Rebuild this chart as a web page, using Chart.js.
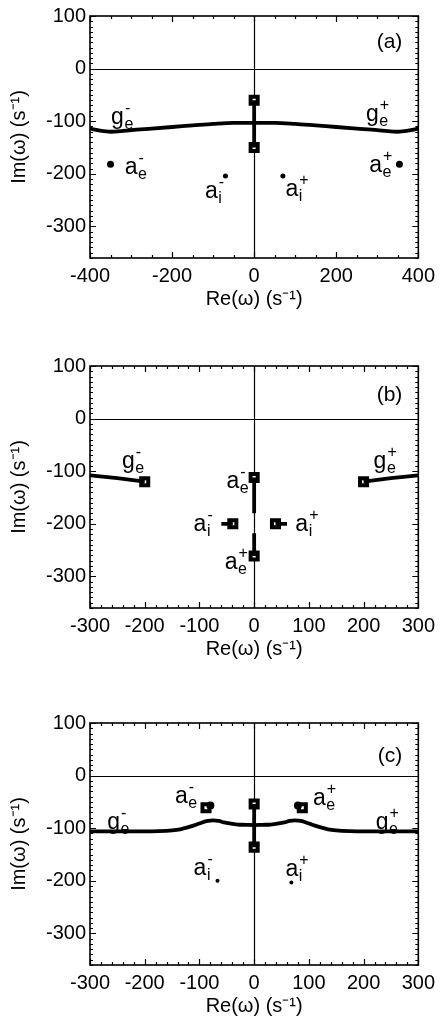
<!DOCTYPE html>
<html>
<head>
<meta charset="utf-8">
<script src="https://cdn.jsdelivr.net/npm/chart.js@4"></script>
<style>
  html, body { margin: 0; padding: 0; background: #fff; }
  body { width: 441px; height: 1025px; position: relative; overflow: hidden; }
  canvas { position: absolute; left: 0; }
</style>
</head>
<body>
<canvas id="painelA" width="441" height="318" style="top:0px"></canvas>
<canvas id="painelB" width="441" height="318" style="top:350px"></canvas>
<canvas id="painelC" width="441" height="318" style="top:707px"></canvas>
<script>
// eixos
const yTicks = [-300, -200, -100, 0, 100];
const xTicksA = [-400, -200, 0, 200, 400];
const xTicksBC = [-300, -200, -100, 0, 100, 200, 300];

// painel (a)
const aCurvaX = [-400, -375, -350, -325, -300, -250, -200, -150, -100, -50, 0, 50, 100, 150, 200, 250, 300, 325, 350, 375, 400];
const aCurvaY = [-114, -118, -120, -119, -117, -114, -111, -108, -105, -103, -103, -103, -105, -108, -111, -114, -117, -119, -120, -118, -114];
const aHasteX = [0, 0];
const aHasteY = [-60, -150];
const aQuadX = [0, 0];
const aQuadY = [-60, -150];
const aPontoEX = [-350, 354];
const aPontoEY = [-182, -182];
const aPontoIX = [-70, 70];
const aPontoIY = [-204, -204];

// painel (b)
const bGMenosX = [-300, -250, -200];
const bGMenosY = [-108, -113, -120];
const bGMaisX = [200, 250, 300];
const bGMaisY = [-120, -113, -108];
const bHasteSupX = [0, 0];
const bHasteSupY = [-112, -180];
const bHasteInfX = [0, 0];
const bHasteInfY = [-218, -261];
const bAiMenosX = [-60, -39];
const bAiMenosY = [-200, -200];
const bAiMaisX = [39, 60];
const bAiMaisY = [-200, -200];
const bQuadX = [-200, 200, 0, 0, -39, 39];
const bQuadY = [-120, -120, -112, -261, -200, -200];

// painel (c)
const cCurvaX = [-300, -250, -200, -175, -150, -135, -120, -105, -95, -85, -75, -65, -55, -45, -30, -15, 0, 15, 30, 45, 55, 65, 75, 85, 95, 105, 120, 135, 150, 175, 200, 250, 300];
const cCurvaY = [-106, -106, -106, -105.5, -104, -102, -98, -93, -89, -86, -85, -86, -89, -91, -93, -93.5, -94, -93.5, -93, -91, -89, -86, -85, -86, -89, -93, -98, -102, -104, -105.5, -106, -106, -106];
const cHasteX = [0, 0];
const cHasteY = [-54, -136];
const cQuadX = [0, 0, -88, 88];
const cQuadY = [-54, -136, -61, -61];
const cBolhaX = [-80, 80];
const cBolhaY = [-57, -57];
const cPontoIX = [-67, 68];
const cPontoIY = [-200, -203];

// rótulos (posição em coordenadas de dados)
const rotulosA = [
  { x: -333, y: -93, base: 'g', sub: 'e', sup: '-' },
  { x: 288, y: -88, base: 'g', sub: 'e', sup: '+' },
  { x: -300, y: -188, base: 'a', sub: 'e', sup: '-' },
  { x: 296, y: -185, base: 'a', sub: 'e', sup: '+' },
  { x: -104, y: -234, base: 'a', sub: 'i', sup: '-' },
  { x: 92, y: -231, base: 'a', sub: 'i', sup: '+' }
];
const rotulosB = [
  { x: -230, y: -82, base: 'g', sub: 'e', sup: '-' },
  { x: 230, y: -82, base: 'g', sub: 'e', sup: '+' },
  { x: -39, y: -120, base: 'a', sub: 'e', sup: '-' },
  { x: -42, y: -274, base: 'a', sub: 'e', sup: '+' },
  { x: -99, y: -202, base: 'a', sub: 'i', sup: '-' },
  { x: 87, y: -202, base: 'a', sub: 'i', sup: '+' }
];
const rotulosC = [
  { x: -257, y: -91, base: 'g', sub: 'e', sup: '-' },
  { x: 234, y: -91, base: 'g', sub: 'e', sup: '+' },
  { x: -133, y: -41, base: 'a', sub: 'e', sup: '-' },
  { x: 119, y: -44, base: 'a', sub: 'e', sup: '+' },
  { x: -99, y: -177, base: 'a', sub: 'i', sup: '-' },
  { x: 69, y: -180, base: 'a', sub: 'i', sup: '+' }
];

const FONTE = '"Liberation Sans", Arial, Helvetica, sans-serif';

function pts(xs, ys) {
  return xs.map((x, i) => ({ x: x, y: ys[i] }));
}

function linha(xs, ys, suave) {
  return {
    data: pts(xs, ys), showLine: true, borderColor: '#000', borderWidth: 3.8,
    pointRadius: 0, tension: suave ? 0.4 : 0,
    cubicInterpolationMode: suave ? 'monotone' : 'default'
  };
}

function quadrados(xs, ys) {
  return {
    data: pts(xs, ys), showLine: false, pointStyle: 'rect', pointRadius: 5,
    backgroundColor: '#fff', borderColor: '#000', borderWidth: 4
  };
}

function pontos(xs, ys, r) {
  return {
    data: pts(xs, ys), showLine: false, pointStyle: 'circle', pointRadius: r,
    backgroundColor: '#000', borderColor: '#000', borderWidth: 0
  };
}

// moldura estilo IDL: eixos zero, caixa e marcas para dentro
const quadroPlugin = {
  id: 'quadro',
  beforeDatasetsDraw(chart) {
    const { ctx, chartArea: a, scales: { x, y } } = chart;
    ctx.save();
    ctx.strokeStyle = '#000';
    ctx.lineWidth = 1.2;
    ctx.beginPath();
    const x0 = Math.round(x.getPixelForValue(0)) + 0.5;
    const y0 = Math.round(y.getPixelForValue(0)) + 0.5;
    ctx.moveTo(x0, a.top); ctx.lineTo(x0, a.bottom);
    ctx.moveTo(a.left, y0); ctx.lineTo(a.right, y0);
    ctx.stroke();
    ctx.restore();
  },
  afterDatasetsDraw(chart, args, opts) {
    const { ctx, chartArea: a, scales: { x, y } } = chart;
    ctx.save();
    ctx.strokeStyle = '#000';
    ctx.lineWidth = 1.6;
    ctx.strokeRect(a.left, a.top, a.right - a.left, a.bottom - a.top);

    ctx.lineWidth = 1.2;
    ctx.beginPath();
    for (let v = x.min; v <= x.max + 1e-6; v += opts.xMenor) {
      const px = Math.round(x.getPixelForValue(v)) + 0.5;
      const len = opts.xMaior.includes(v) ? 6 : 3;
      ctx.moveTo(px, a.bottom); ctx.lineTo(px, a.bottom - len);
      ctx.moveTo(px, a.top); ctx.lineTo(px, a.top + len);
    }
    const yIni = Math.ceil(y.min / opts.yMenor) * opts.yMenor;
    for (let v = yIni; v <= y.max + 1e-6; v += opts.yMenor) {
      const py = Math.round(y.getPixelForValue(v)) + 0.5;
      const len = yTicks.includes(v) ? 6 : 3;
      ctx.moveTo(a.left, py); ctx.lineTo(a.left + len, py);
      ctx.moveTo(a.right, py); ctx.lineTo(a.right - len, py);
    }
    ctx.stroke();

    // rótulos das raízes
    ctx.fillStyle = '#000';
    ctx.textBaseline = 'alphabetic';
    ctx.textAlign = 'left';
    opts.rotulos.forEach(r => {
      const cx = x.getPixelForValue(r.x);
      const cy = y.getPixelForValue(r.y);
      ctx.font = '23px ' + FONTE;
      const w = ctx.measureText(r.base).width;
      const bx = cx - w / 2;
      const by = cy + 6;
      ctx.fillText(r.base, bx, by);
      ctx.font = '16px ' + FONTE;
      ctx.fillText(r.sub, bx + w + 0.5, by + 5);
      ctx.fillText(r.sup, bx + w + 1, by - 11);
    });

    // letra do painel
    ctx.font = '21px ' + FONTE;
    ctx.textAlign = 'right';
    ctx.textBaseline = 'middle';
    ctx.fillText(opts.letra, a.right - 16, y.getPixelForValue(opts.letraY));
    ctx.restore();
  }
};

function criarPainel(id, datasets, xMin, xMax, xMaior, xMenor, rotulos, letra, letraY) {
  const el = document.getElementById(id);
  if (!el) return;
  try {
    new Chart(el, {
      type: 'scatter',
      data: { datasets: datasets },
      options: {
        responsive: false,
        animation: false,
        events: [],
        layout: { padding: { top: 6, right: 17, left: 0, bottom: 0 } },
        plugins: {
          legend: { display: false },
          tooltip: { enabled: false },
          quadro: { xMaior: xMaior, xMenor: xMenor, yMenor: 10, rotulos: rotulos, letra: letra, letraY: letraY }
        },
        scales: {
          x: {
            type: 'linear', min: xMin, max: xMax,
            afterBuildTicks: s => { s.ticks = xMaior.map(v => ({ value: v })); },
            afterFit: s => { s.height = 60; },
            grid: { display: false, drawTicks: false },
            border: { display: false },
            ticks: { color: '#000', font: { family: FONTE, size: 20 }, padding: 6, maxRotation: 0, autoSkip: false },
            title: { display: true, text: 'Re(ω) (s⁻¹)', color: '#000', font: { family: FONTE, size: 20 }, padding: { top: 0, bottom: 7 } }
          },
          y: {
            type: 'linear', min: -360, max: 100,
            afterBuildTicks: s => { s.ticks = yTicks.map(v => ({ value: v })); },
            afterFit: s => { s.width = 90; },
            grid: { display: false, drawTicks: false },
            border: { display: false },
            ticks: { color: '#000', font: { family: FONTE, size: 20 }, padding: 4, autoSkip: false },
            title: { display: true, text: 'Im(ω) (s⁻¹)', color: '#000', font: { family: FONTE, size: 20 }, padding: { top: 7, bottom: 0 } }
          }
        }
      },
      plugins: [quadroPlugin]
    });
  } catch (e) {
    console.error('Erro ao criar painel ' + id + ':', e);
  }
}

criarPainel('painelA', [
  linha(aCurvaX, aCurvaY, true),
  linha(aHasteX, aHasteY, false),
  quadrados(aQuadX, aQuadY),
  pontos(aPontoEX, aPontoEY, 3.5),
  pontos(aPontoIX, aPontoIY, 2.5)
], -400, 400, xTicksA, 50, rotulosA, '(a)', 50);

criarPainel('painelB', [
  linha(bGMenosX, bGMenosY, false),
  linha(bGMaisX, bGMaisY, false),
  linha(bHasteSupX, bHasteSupY, false),
  linha(bHasteInfX, bHasteInfY, false),
  linha(bAiMenosX, bAiMenosY, false),
  linha(bAiMaisX, bAiMaisY, false),
  quadrados(bQuadX, bQuadY)
], -300, 300, xTicksBC, 20, rotulosB, '(b)', 44);

criarPainel('painelC', [
  linha(cCurvaX, cCurvaY, true),
  linha(cHasteX, cHasteY, false),
  pontos(cBolhaX, cBolhaY, 4),
  quadrados(cQuadX, cQuadY),
  pontos(cPontoIX, cPontoIY, 2)
], -300, 300, xTicksBC, 20, rotulosC, '(c)', 36);
</script>
</body>
</html>
